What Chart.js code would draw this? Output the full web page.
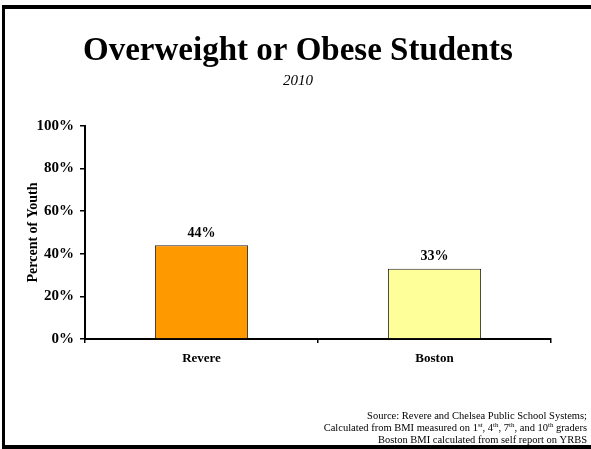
<!DOCTYPE html>
<html>
<head>
<meta charset="utf-8">
<script src="https://cdn.jsdelivr.net/npm/chart.js@4"></script>
<style>
  html, body { margin: 0; padding: 0; background: #fff; }
  #wrap { position: relative; width: 591px; height: 449px; overflow: hidden; }
  #frame {
    position: absolute; left: 2px; top: 5px; width: 589px; height: 444px;
    box-sizing: border-box;
    border-left: 3px solid #000; border-top: 4px solid #000; border-bottom: 4px solid #000;
    pointer-events: none;
  }
</style>
</head>
<body>
<div id="wrap">
  <canvas id="chart" width="591" height="449"></canvas>
  <div id="frame"></div>
</div>
<script>
// chart data
const categories = ['Revere', 'Boston'];
const percentValues = [44, 33];
const yTicks = [0, 20, 40, 60, 80, 100];
const titleText = 'Overweight or Obese Students';
const subtitleText = '2010';

const serif = '"Liberation Serif", "Times New Roman", serif';

// title + year, centred on the whole page (not on the plot area)
const pageTitle = {
    id: 'pageTitle',
    afterDraw(chart) {
        const ctx = chart.ctx;
        ctx.save();
        ctx.fillStyle = '#000';
        ctx.textAlign = 'center';
        ctx.textBaseline = 'alphabetic';
        ctx.font = 'bold 33px ' + serif;
        ctx.fillText(titleText, 298, 60);
        ctx.font = 'italic 15px ' + serif;
        ctx.fillText(subtitleText, 298, 85);
        ctx.restore();
    }
};

// labels on top of the bars
const barLabels = {
    id: 'barLabels',
    afterDatasetsDraw(chart) {
        const ctx = chart.ctx;
        const meta = chart.getDatasetMeta(0);
        ctx.save();
        ctx.font = 'bold 14px ' + serif;
        ctx.fillStyle = '#000';
        ctx.textAlign = 'center';
        ctx.textBaseline = 'middle';
        meta.data.forEach((bar, i) => {
            ctx.fillText(percentValues[i] + '%', bar.x, bar.y - 12);
        });
        ctx.restore();
    }
};

// source note at the bottom right, with superscripts
const sourceNote = {
    id: 'sourceNote',
    afterDraw(chart) {
        const ctx = chart.ctx;
        const lines = [
            [['Source: Revere and Chelsea Public School Systems;', false]],
            [['Calculated from BMI measured on 1', false], ['st', true], [', 4', false], ['th', true],
             [', 7', false], ['th', true], [', and 10', false], ['th', true], [' graders', false]],
            [['Boston BMI calculated from self report on YRBS', false]]
        ];
        const ys = [416, 428, 440];
        const right = 587;
        ctx.save();
        ctx.fillStyle = '#000';
        ctx.textBaseline = 'middle';
        ctx.textAlign = 'left';
        lines.forEach((parts, li) => {
            let total = 0;
            parts.forEach(([t, sup]) => {
                ctx.font = (sup ? '7px ' : '10.5px ') + serif;
                total += ctx.measureText(t).width;
            });
            let x = right - total;
            parts.forEach(([t, sup]) => {
                ctx.font = (sup ? '7px ' : '10.5px ') + serif;
                ctx.fillText(t, x, sup ? ys[li] - 3 : ys[li]);
                x += ctx.measureText(t).width;
            });
        });
        ctx.restore();
    }
};

new Chart(document.getElementById('chart'), {
    type: 'bar',
    data: {
        labels: categories,
        datasets: [{
            data: percentValues,
            backgroundColor: ['#FF9900', '#FFFF99'],
            borderColor: '#222',
            borderWidth: 1,
            categoryPercentage: 1.0,
            barPercentage: 0.4
        }]
    },
    options: {
        responsive: false,
        animation: false,
        devicePixelRatio: 1,
        layout: { padding: { left: 0, right: 40, top: 126, bottom: 0 } },
        plugins: {
            legend: { display: false },
            tooltip: { enabled: false },
            title: { display: false }
        },
        scales: {
            x: {
                grid: { offset: true, drawOnChartArea: false, drawTicks: true, tickLength: 4, color: '#000', lineWidth: 1.5 },
                border: { display: true, color: '#000', width: 2 },
                ticks: { color: '#000', padding: 8, font: { family: serif, size: 13, weight: 'bold' } },
                afterFit(scale) { scale.height = 110; }
            },
            y: {
                min: 0,
                max: 100,
                afterBuildTicks(scale) { scale.ticks = yTicks.map(v => ({ value: v })); },
                grid: { drawOnChartArea: false, drawTicks: true, tickLength: 5, color: '#000', lineWidth: 1.5 },
                border: { display: true, color: '#000', width: 2 },
                ticks: {
                    color: '#000',
                    padding: 6,
                    font: { family: serif, size: 15, weight: 'bold' },
                    callback: v => v + '%'
                },
                title: {
                    display: true,
                    text: 'Percent of Youth',
                    color: '#000',
                    font: { family: serif, size: 14, weight: 'bold' },
                    padding: { top: 25, bottom: 0 }
                },
                afterFit(scale) { scale.width = 85; }
            }
        }
    },
    plugins: [pageTitle, barLabels, sourceNote]
});
</script>
</body>
</html>
